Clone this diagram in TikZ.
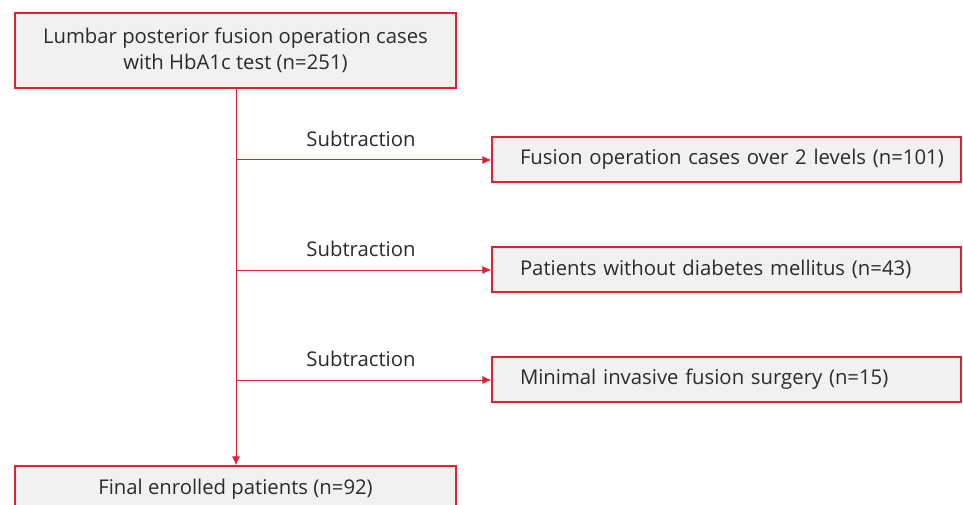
\documentclass[tikz,border=0pt]{standalone}
\usepackage{fontspec}
\setmainfont{Open Sans}
\usetikzlibrary{arrows.meta}
\definecolor{boxred}{HTML}{E51F2E}
\definecolor{boxfill}{HTML}{F1F1F1}
\definecolor{txt}{HTML}{2B2B2B}
\begin{document}
\begin{tikzpicture}[x=1pt,y=-1pt,
  box/.style={draw=boxred,fill=boxfill,line width=1.2pt,text=txt,font=\fontsize{20.3}{26}\selectfont,inner sep=0pt,align=center},
  rbox/.style={box,text width=413pt,inner xsep=28pt,inner ysep=0pt,align=left,minimum height=45pt},
  lbl/.style={text=txt,font=\fontsize{20.3}{26}\selectfont,inner sep=0pt},
  conn/.style={draw=boxred,line width=1pt},
  arr/.style={conn,-{Latex[length=9pt,width=8pt]}}]
\useasboundingbox (0,0) rectangle (963,505);
\begin{scope}
\clip (0,0) rectangle (963,505);
\node[box,minimum width=441pt,minimum height=75pt] (top) at (235.5,50.5) {Lumbar posterior fusion operation cases\\with HbA1c test (n=251)};
\node[rbox] (r1) at (726.5,159.5) {\mbox{Fusion operation cases over 2 levels (n=101)}};
\node[rbox] (r2) at (726.5,269.5) {\mbox{Patients without diabetes mellitus (n=43)}};
\node[rbox] (r3) at (726.5,379.5) {\mbox{Minimal invasive fusion surgery (n=15)}};
\node[box,minimum width=441pt,minimum height=46pt] (bot) at (235.5,489) {Final enrolled patients (n=92)};
\end{scope}
\coordinate (j1) at (236,160);
\coordinate (j2) at (236,270);
\coordinate (j3) at (236,380);
\draw[arr] (top.south -| j1) -- (bot.north -| j1);
\draw[arr] (j1) -- (r1.west |- j1);
\draw[arr] (j2) -- (r2.west |- j2);
\draw[arr] (j3) -- (r3.west |- j3);
\node[lbl] (s1) at (361,139) {Subtraction};
\node[lbl] (s2) at (361,249) {Subtraction};
\node[lbl] (s3) at (361,359) {Subtraction};
\end{tikzpicture}
\end{document}
